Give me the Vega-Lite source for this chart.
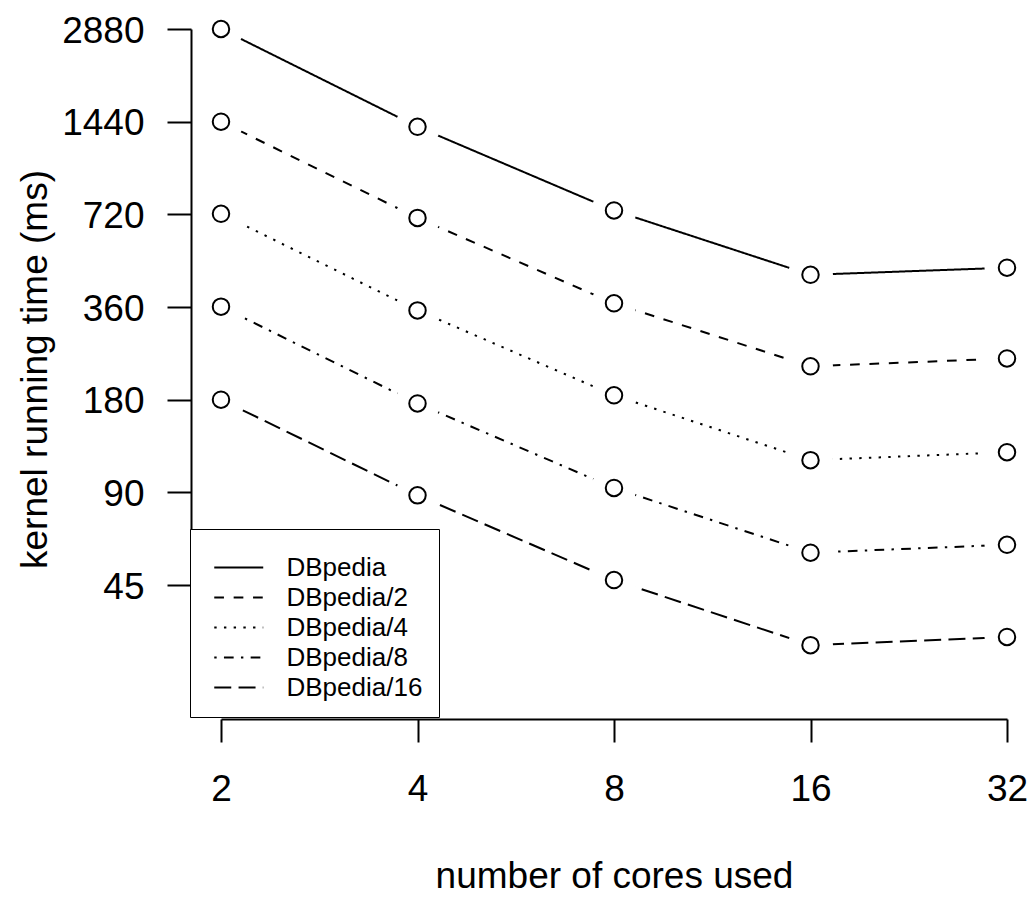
{
  "$schema": "https://vega.github.io/schema/vega-lite/v6.json",
  "width": 786,
  "height": 556,
  "autosize": {"type": "none"},
  "padding": {"left": 221, "top": 29, "right": 29, "bottom": 313},
  "background": "white",
  "config": {
    "view": {"stroke": null},
    "font": "Liberation Sans",
    "axis": {
      "domainColor": "black", "domainWidth": 2, "tickColor": "black", "tickWidth": 2,
      "labelColor": "black", "titleColor": "black", "labelFont": "Liberation Sans", "titleFont": "Liberation Sans",
      "labelFontSize": 37, "titleFontSize": 37, "titleFontWeight": "normal", "grid": false
    },
    "legend": {
      "labelFont": "Liberation Sans", "labelFontSize": 26, "labelColor": "black"
    }
  },
  "data": {
    "values": [
      {"cores": 2, "ms": 2880, "series": "DBpedia"},
      {"cores": 4, "ms": 1386, "series": "DBpedia"},
      {"cores": 8, "ms": 741, "series": "DBpedia"},
      {"cores": 16, "ms": 458, "series": "DBpedia"},
      {"cores": 32, "ms": 483, "series": "DBpedia"},
      {"cores": 2, "ms": 1440, "series": "DBpedia/2"},
      {"cores": 4, "ms": 701, "series": "DBpedia/2"},
      {"cores": 8, "ms": 370, "series": "DBpedia/2"},
      {"cores": 16, "ms": 231, "series": "DBpedia/2"},
      {"cores": 32, "ms": 245, "series": "DBpedia/2"},
      {"cores": 2, "ms": 723, "series": "DBpedia/4"},
      {"cores": 4, "ms": 351, "series": "DBpedia/4"},
      {"cores": 8, "ms": 186, "series": "DBpedia/4"},
      {"cores": 16, "ms": 114.5, "series": "DBpedia/4"},
      {"cores": 32, "ms": 121.5, "series": "DBpedia/4"},
      {"cores": 2, "ms": 361, "series": "DBpedia/8"},
      {"cores": 4, "ms": 175, "series": "DBpedia/8"},
      {"cores": 8, "ms": 93, "series": "DBpedia/8"},
      {"cores": 16, "ms": 57.3, "series": "DBpedia/8"},
      {"cores": 32, "ms": 60.8, "series": "DBpedia/8"},
      {"cores": 2, "ms": 180, "series": "DBpedia/16"},
      {"cores": 4, "ms": 88, "series": "DBpedia/16"},
      {"cores": 8, "ms": 46.7, "series": "DBpedia/16"},
      {"cores": 16, "ms": 28.7, "series": "DBpedia/16"},
      {"cores": 32, "ms": 30.5, "series": "DBpedia/16"}
    ]
  },
  "encoding": {
    "x": {
      "field": "cores", "type": "quantitative",
      "scale": {"type": "log", "base": 2, "domain": [2, 32], "nice": false, "zero": false},
      "axis": {
        "title": "number of cores used", "values": [2, 4, 8, 16, 32], "format": "d",
        "offset": 134, "tickSize": 23, "labelPadding": 29, "labelFlush": false, "labelOverlap": false,
        "titleBaseline": "alphabetic", "titleY": 168, "titlePadding": 0
      }
    },
    "y": {
      "field": "ms", "type": "quantitative",
      "scale": {"type": "log", "base": 2, "domain": [45, 2880], "nice": false, "zero": false},
      "axis": {
        "title": "kernel running time (ms)", "values": [45, 90, 180, 360, 720, 1440, 2880], "format": "d",
        "offset": 30, "tickSize": 24, "labelPadding": 23, "labelOffset": 2, "labelFlush": false, "labelOverlap": false,
        "titleAngle": 270, "titleBaseline": "alphabetic", "titleX": -145, "titleY": 340, "titleAlign": "center"
      }
    }
  },
  "layer": [
    {
      "mark": {"type": "line", "color": "black", "strokeWidth": 2, "clip": false},
      "encoding": {
        "strokeDash": {
          "field": "series", "type": "nominal",
          "scale": {
            "domain": ["DBpedia", "DBpedia/2", "DBpedia/4", "DBpedia/8", "DBpedia/16"],
            "range": [[1, 0], [9.7, 9.7], [2.4, 7.3], [2.4, 7.3, 9.7, 7.3], [17, 7.3]]
          },
          "legend": {
            "title": " ", "titleFontSize": 5, "titlePadding": 4,
            "orient": "none", "legendX": -31, "legendY": 500,
            "symbolType": "M-1,0H3", "symbolSize": 600, "symbolStrokeWidth": 2, "symbolStrokeColor": "black",
            "symbolOffset": 7, "labelOffset": 46.5, "rowPadding": 3, "padding": 16,
            "fillColor": "white", "strokeColor": "black"
          }
        }
      }
    },
    {
      "mark": {"type": "point", "shape": "circle", "filled": true, "color": "white", "size": 2025, "opacity": 1, "strokeWidth": 0}
    },
    {
      "mark": {"type": "point", "shape": "circle", "filled": false, "color": "black", "size": 272, "opacity": 1, "strokeWidth": 2}
    }
  ]
}
